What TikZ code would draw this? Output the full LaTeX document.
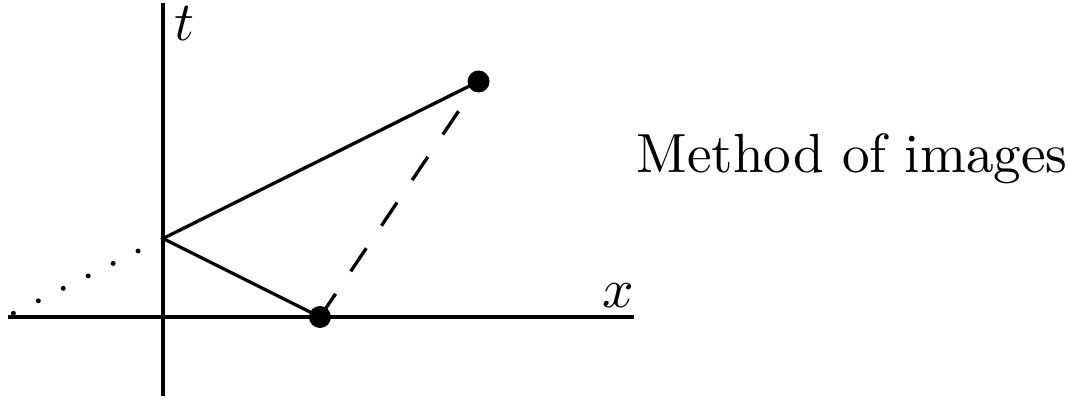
\documentclass[tikz,border=0pt]{standalone}
\usepackage{amsmath,amssymb}
\usepackage{tikz}
\usetikzlibrary{positioning, calc}
\tikzstyle{axis} = [line width=0.7pt, draw=black]
\tikzstyle{ray} = [line width=0.6pt, draw=black]
\tikzstyle{imageray} = [line width=0.6pt, draw=black, dash pattern=on 5.07pt off 4.9pt]
\tikzstyle{extension} = [line width=0.9pt, draw=black, line cap=round, dash pattern=on 0pt off 5.05pt]
\tikzstyle{charge} = [circle, fill=black, minimum size=0.14cm, inner sep=0pt]
\tikzstyle{axislabel} = [inner sep=0pt]

\begin{document}
\begin{tikzpicture}
    \useasboundingbox (-1.038,-0.522) rectangle (5.777,2.019);

    % axes
    \coordinate (xmin) at (-0.987,0);
    \coordinate (xmax) at (3.0,0);
    \coordinate (tmin) at (0,-0.5);
    \coordinate (tmax) at (0,2.0);
    \draw [axis] (xmin) -- (xmax);
    \draw [axis] (tmin) -- (tmax);
    \node (tlabel) [axislabel] at (0.14,1.87) {$t$};
    \node (xlabel) [axislabel] at (2.9,0.135) {$x$};

    % source, image and reflection point
    \coordinate (hit) at (0,0.5);
    \coordinate (far) at (-0.965,0.018);
    \node (source) [charge] at (1,0) {};
    \node (image) [charge] at (2.01,1.5) {};

    \draw [ray] (hit) -- (image.center);
    \draw [ray] (hit) -- (source.center);
    \draw [imageray] (source.center) -- (image.center);
    \draw [extension] (hit) -- (far);

    \node (title) [anchor=base west, inner sep=0pt] at (3.01,0.92) {Method of images};
\end{tikzpicture}
\end{document}
